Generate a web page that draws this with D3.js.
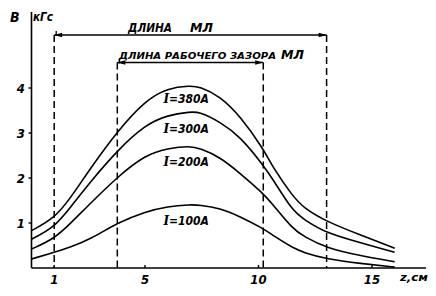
<!DOCTYPE html>
<html><head><meta charset="utf-8">
<script src="https://cdn.jsdelivr.net/npm/d3@7"></script>
<style>
html,body{margin:0;padding:0;background:#fff;}
svg{display:block;}
text{font-family:"DejaVu Sans Condensed","DejaVu Sans",sans-serif;font-style:italic;font-weight:bold;fill:#000;}
</style></head>
<body>
<svg id="chart" width="436" height="296"></svg>
<script>
// ---- data ----
const zValues = [0, 1, 1.7, 2.6, 3.8, 5, 6, 7, 7.4, 8.3, 9.2, 10.2, 10.65, 11.5, 12, 13, 14.5, 16];
const b380 = [0.83, 1.10, 1.54, 2.22, 3.05, 3.72, 4.0, 4.05, 4.03, 3.82, 3.37, 2.66, 2.22, 1.6, 1.33, 1.03, 0.73, 0.44];
const b300 = [0.64, 0.90, 1.34, 1.92, 2.62, 3.18, 3.40, 3.47, 3.47, 3.25, 2.92, 2.29, 1.96, 1.27, 1.08, 0.77, 0.56, 0.35];
const b200 = [0.42, 0.65, 0.98, 1.44, 2.03, 2.51, 2.66, 2.71, 2.66, 2.47, 2.10, 1.66, 1.4, 0.87, 0.70, 0.44, 0.27, 0.14];
const b100 = [0.20, 0.35, 0.46, 0.64, 1.01, 1.25, 1.37, 1.41, 1.40, 1.33, 1.14, 0.88, 0.72, 0.45, 0.34, 0.20, 0.10, 0.02];
const seriesLabels = ["I=380A", "I=300A", "I=200A", "I=100A"];
const labelPos = [[7.0, 3.78], [7.0, 3.12], [7.0, 2.38], [7.0, 1.06]]; // [z, B] where label sits
const xTicks = [1, 5, 10, 15];
const yTicks = [1, 2, 3, 4];
const mlBounds = [1.0, 13.0];
const gapBounds = [3.78, 10.21];

const svg = d3.select("#chart");
const x = d3.scaleLinear().domain([0, 15]).range([31.5, 372]);
const y = d3.scaleLinear().domain([0, 4]).range([268, 88]);

// axes
svg.append("line").attr("x1", x(0)).attr("x2", x(0)).attr("y1", 12).attr("y2", y(0))
  .attr("stroke", "#000").attr("stroke-width", 1.6);
svg.append("line").attr("x1", x(0)).attr("x2", 426).attr("y1", y(0)).attr("y2", y(0))
  .attr("stroke", "#000").attr("stroke-width", 1.6);

// ticks
yTicks.forEach(t => {
  svg.append("line").attr("x1", x(0) - 3).attr("x2", x(0)).attr("y1", y(t)).attr("y2", y(t))
    .attr("stroke", "#000").attr("stroke-width", 1.4);
  svg.append("text").attr("x", 25).attr("y", y(t) + 5).attr("text-anchor", "end")
    .attr("font-size", 13).text(t);
});
xTicks.forEach(t => {
  svg.append("line").attr("x1", x(t)).attr("x2", x(t)).attr("y1", y(0) - 3).attr("y2", y(0))
    .attr("stroke", "#000").attr("stroke-width", 1.4);
  svg.append("text").attr("x", x(t)).attr("y", 284).attr("text-anchor", "middle")
    .attr("font-size", 13).text(t);
});

// axis labels
svg.append("text").attr("x", 10).attr("y", 22).attr("font-size", 14).text("B");
svg.append("text").attr("x", 33).attr("y", 21).attr("font-size", 12)
  .attr("textLength", 20).attr("lengthAdjust", "spacingAndGlyphs").text("кГс");
svg.append("text").attr("x", 400).attr("y", 281).attr("font-size", 11)
  .attr("textLength", 28).attr("lengthAdjust", "spacingAndGlyphs").text("z,см");

// dashed verticals
const dashStyle = s => s.attr("stroke", "#000").attr("stroke-width", 1.5).attr("stroke-dasharray", "7,4");
mlBounds.forEach(b => dashStyle(svg.append("line").attr("x1", x(b)).attr("x2", x(b)).attr("y1", 35).attr("y2", y(0))));
gapBounds.forEach(b => dashStyle(svg.append("line").attr("x1", x(b)).attr("x2", x(b)).attr("y1", 62.5).attr("y2", y(0))));

// dimension lines with arrowheads
function dimLine(x1, x2, yy) {
  svg.append("line").attr("x1", x1).attr("x2", x2).attr("y1", yy).attr("y2", yy)
    .attr("stroke", "#000").attr("stroke-width", 1.3);
  svg.append("path").attr("d", `M${x1},${yy} L${x1 + 8},${yy - 2.2} L${x1 + 8},${yy + 2.2} Z`).attr("fill", "#000");
  svg.append("path").attr("d", `M${x2},${yy} L${x2 - 8},${yy - 2.2} L${x2 - 8},${yy + 2.2} Z`).attr("fill", "#000");
  svg.append("line").attr("x1", x1 + 2).attr("x2", x1 + 2).attr("y1", yy - 4).attr("y2", yy + 1)
    .attr("stroke", "#000").attr("stroke-width", 1.3);
}
dimLine(x(mlBounds[0]), x(mlBounds[1]), 35);
dimLine(x(gapBounds[0]), x(gapBounds[1]), 62.5);

svg.append("text").attr("x", 128).attr("y", 32).attr("font-size", 12)
  .attr("textLength", 44).attr("lengthAdjust", "spacingAndGlyphs").text("ДЛИНА");
svg.append("text").attr("x", 190).attr("y", 32).attr("font-size", 12)
  .attr("textLength", 23).attr("lengthAdjust", "spacingAndGlyphs").text("МЛ");
svg.append("text").attr("x", 119).attr("y", 58.5).attr("font-size", 9.5)
  .attr("textLength", 157).attr("lengthAdjust", "spacingAndGlyphs").text("ДЛИНА РАБОЧЕГО ЗАЗОРА");
svg.append("text").attr("x", 281).attr("y", 59).attr("font-size", 12.5)
  .attr("textLength", 23).attr("lengthAdjust", "spacingAndGlyphs").text("МЛ");

// curves
const line = d3.line().x(d => x(d[0])).y(d => y(d[1])).curve(d3.curveBasis);
[b380, b300, b200, b100].forEach(vals => {
  svg.append("path").datum(zValues.map((z, i) => [z, vals[i]]))
    .attr("d", line).attr("fill", "none").attr("stroke", "#000").attr("stroke-width", 1.6);
});

// series labels
seriesLabels.forEach((lab, i) => {
  const t = svg.append("text").attr("x", x(labelPos[i][0]) - 27).attr("y", y(labelPos[i][1]) + 5)
    .attr("font-size", 12);
  t.append("tspan").style("font-family", "'DejaVu Serif',serif").text(lab.slice(0, 1));
  t.append("tspan").text(lab.slice(1));
});
</script>
</body></html>
